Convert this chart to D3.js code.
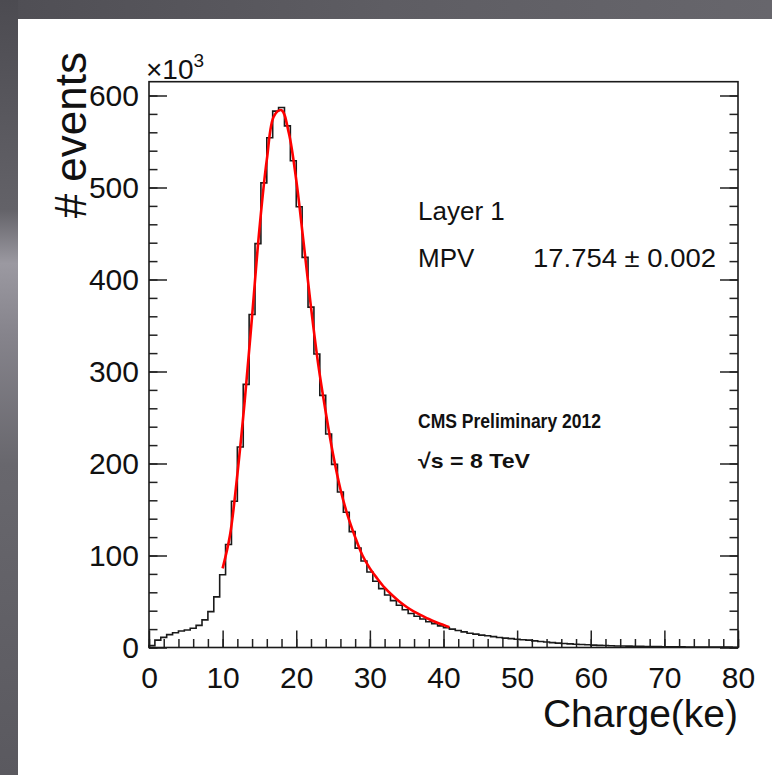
<!DOCTYPE html>
<html>
<head>
<meta charset="utf-8">
<script src="https://cdn.jsdelivr.net/npm/d3@7"></script>
<style>
  body { margin: 0; background: #fff; }
  svg { display: block; }
  text { font-family: "Liberation Sans", Arial, Helvetica, sans-serif; fill: #111; }
</style>
</head>
<body>
<script>
// histogram: 100 bins of 0.8 ke from 0 to 80, counts in units of 10^3
const binWidth = 0.8;
const counts = [
  2, 8, 11, 14, 16, 18, 19, 21, 24, 30,
  39, 55, 79, 112, 159, 218, 286, 362, 439, 505,
  554, 583, 587, 567, 529, 479, 424, 370, 319, 274,
  232, 199, 169, 147, 126, 108, 94, 82, 72, 64,
  57, 51, 46, 41, 37, 34, 31, 28, 26, 23.5,
  21.5, 20, 18.5, 17, 15.5, 14.5, 13.5, 12.7, 11.8, 10.9,
  10.2, 9.6, 9, 8.5, 8, 7.2, 6.5, 6, 5.3, 4.8,
  4.4, 3.9, 3.5, 3.2, 3, 2.6, 2.3, 2.1, 1.9, 1.7,
  1.6, 1.5, 1.4, 1.2, 1.0, 0.9, 0.9, 0.8, 0.8, 0.7,
  0.7, 0.6, 0.6, 0.5, 0.5, 0.5, 0.4, 0.4, 0.4, 0.3
];

// Landau x Gauss fit
const fitX = [10, 11, 12, 13, 14, 15, 16, 17, 18, 19, 20, 21, 22, 23, 24, 25,
              26, 27, 28, 29, 30, 31, 32, 33, 34, 35, 36, 37, 38, 39, 40, 40.8];
const fitY = [86, 122, 188, 268, 360, 455, 530, 578, 584, 559, 508, 440, 370, 307, 256, 210,
              172, 143, 120, 100, 86, 75, 65, 57, 50, 44, 39, 35, 31, 27.5, 24.5, 22];

const xTicks = [0, 10, 20, 30, 40, 50, 60, 70, 80];
const yTicks = [0, 100, 200, 300, 400, 500, 600];

const W = 772, H = 775;
const svg = d3.select("body").append("svg")
    .attr("width", W)
    .attr("height", H);

// slide background border
const defs = svg.append("defs");
const gl = defs.append("linearGradient").attr("id", "leftg")
    .attr("x1", 0).attr("y1", 0).attr("x2", 0).attr("y2", 1);
[[0, "#4c4b51"], [0.27, "#636268"], [0.34, "#9b99a1"], [0.43, "#86848c"], [0.6, "#68676d"], [1, "#5a595f"]]
  .forEach(s => gl.append("stop").attr("offset", s[0]).attr("stop-color", s[1]));
const gt = defs.append("linearGradient").attr("id", "topg")
    .attr("x1", 0).attr("y1", 0).attr("x2", 1).attr("y2", 0);
[[0, "#4f4e54"], [0.5, "#5e5d63"], [1, "#67666c"]]
  .forEach(s => gt.append("stop").attr("offset", s[0]).attr("stop-color", s[1]));

svg.append("rect").attr("width", W).attr("height", H).attr("fill", "#fff");
svg.append("rect").attr("width", W).attr("height", 19).attr("fill", "url(#topg)");
svg.append("rect").attr("width", 18).attr("height", H).attr("fill", "url(#leftg)");

const x = d3.scaleLinear([0, 80], [149, 738]);
const y = d3.scaleLinear([0, 615], [647.5, 81.7]);

// axes, ticks pointing inside the frame
function minor(step, lo, hi) {
  return d3.range(lo, hi + 0.001, step);
}

svg.append("g")
    .attr("transform", `translate(0,${y(0)})`)
    .call(d3.axisBottom(x).tickValues(minor(2, 0, 80)).tickSize(-8.5).tickFormat(""))
    .call(g => g.select(".domain").remove());
svg.append("g")
    .attr("transform", `translate(0,${y(0)})`)
    .call(d3.axisBottom(x).tickValues(xTicks).tickSize(-17).tickPadding(19).tickFormat(d3.format("d")))
    .call(g => g.select(".domain").remove())
    .call(g => g.selectAll("text").attr("font-size", 30).attr("fill", "#111"));

svg.append("g")
    .attr("transform", `translate(${x(0)},0)`)
    .call(d3.axisLeft(y).tickValues(minor(20, 0, 600)).tickSize(-8.5).tickFormat(""))
    .call(g => g.select(".domain").remove());
svg.append("g")
    .attr("transform", `translate(${x(0)},0)`)
    .call(d3.axisLeft(y).tickValues(yTicks).tickSize(-18).tickPadding(10).tickFormat(d3.format("d")))
    .call(g => g.select(".domain").remove())
    .call(g => g.selectAll("text").attr("font-size", 30).attr("fill", "#111"));

svg.append("g")
    .attr("transform", `translate(${x(80)},0)`)
    .call(d3.axisRight(y).tickValues(minor(20, 0, 600)).tickSize(-8.5).tickFormat(""))
    .call(g => g.select(".domain").remove());
svg.append("g")
    .attr("transform", `translate(${x(80)},0)`)
    .call(d3.axisRight(y).tickValues(yTicks).tickSize(-18).tickFormat(""))
    .call(g => g.select(".domain").remove());

svg.selectAll(".tick line").attr("stroke", "#222").attr("stroke-width", 1.5);

// histogram outline
const steps = [[0, 0]].concat(counts.map((c, i) => [i * binWidth, c]));
steps.push([counts.length * binWidth, counts[counts.length - 1]]);
svg.append("path")
    .datum(steps)
    .attr("fill", "none")
    .attr("stroke", "#1a1a1a")
    .attr("stroke-width", 1.6)
    .attr("d", d3.line().x(d => x(d[0])).y(d => y(d[1])).curve(d3.curveStepAfter));

// fit curve
svg.append("path")
    .datum(fitX.map((v, i) => [v, fitY[i]]))
    .attr("fill", "none")
    .attr("stroke", "#ff0000")
    .attr("stroke-width", 2.6)
    .attr("d", d3.line().x(d => x(d[0])).y(d => y(d[1])).curve(d3.curveCatmullRom));

// frame
svg.append("rect")
    .attr("x", x(0)).attr("y", y(615))
    .attr("width", x(80) - x(0)).attr("height", y(0) - y(615))
    .attr("fill", "none")
    .attr("stroke", "#1a1a1a")
    .attr("stroke-width", 1.6);

// titles
svg.append("text")
    .attr("x", x(80)).attr("y", 727)
    .attr("text-anchor", "end")
    .attr("font-size", 39)
    .text("Charge(ke)");

svg.append("text")
    .attr("transform", "translate(86,52) rotate(-90)")
    .attr("text-anchor", "end")
    .attr("font-size", 44)
    .text("# events");

const exp = svg.append("text").attr("x", 146).attr("y", 79).attr("font-size", 28);
exp.append("tspan").text("×10");
exp.append("tspan").attr("font-size", 19).attr("dy", -12).text("3");

// stats box text
svg.append("text").attr("x", 418).attr("y", 220).attr("font-size", 26).text("Layer 1");
svg.append("text").attr("x", 418).attr("y", 267).attr("font-size", 26).text("MPV");
svg.append("text").attr("x", 533).attr("y", 267).attr("font-size", 26)
    .attr("textLength", 183).attr("lengthAdjust", "spacingAndGlyphs").text("17.754 ± 0.002");

svg.append("text").attr("x", 418).attr("y", 428).attr("font-size", 21)
    .attr("font-weight", "bold")
    .attr("textLength", 183).attr("lengthAdjust", "spacingAndGlyphs")
    .text("CMS Preliminary 2012");
svg.append("text").attr("x", 418).attr("y", 468).attr("font-size", 21)
    .attr("font-weight", "bold")
    .attr("textLength", 112).attr("lengthAdjust", "spacingAndGlyphs")
    .text("√s = 8 TeV");
</script>
</body>
</html>
